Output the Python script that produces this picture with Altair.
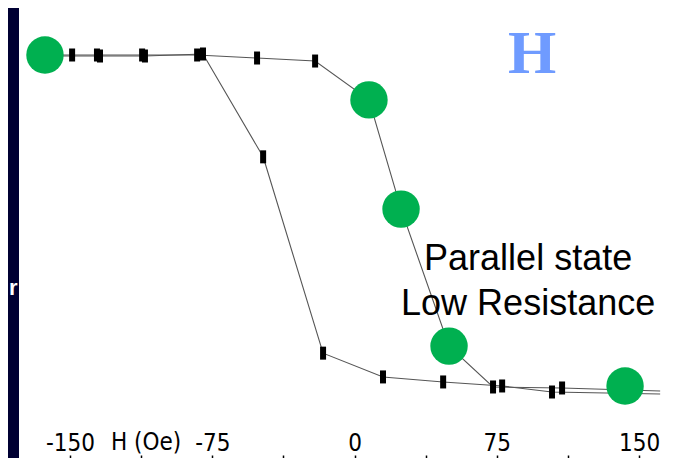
import altair as alt
import pandas as pd

# Branch A (switches at positive field)
a_h = [-163.2, -148.9, -135.8, -112.0, -83.0, -51.4, -20.8, 7.6, 24.5, 49.8, 73.0, 109.4, 161.1]
a_r = [1.000, 1.000, 1.000, 1.000, 1.000, 0.991, 0.982, 0.866, 0.540, 0.131, 0.009, 0.006, -0.003]
# Branch B (switches at negative field)
b_h = [-163.2, -134.2, -110.5, -79.9, -48.2, -16.6, 15.0, 46.7, 77.8, 104.1, 161.1]
b_r = [0.997, 0.997, 0.997, 1.003, 0.696, 0.110, 0.039, 0.024, 0.012, -0.006, -0.012]

# measured points (black bars)
bar_h = [-148.9, -135.8, -112.0, -83.0, -51.4, -20.8, 73.0, 109.4,
         -134.2, -110.5, -79.9, -48.2, -16.6, 15.0, 46.7, 77.8, 104.1]
bar_r = [1.000, 1.000, 1.000, 1.000, 0.991, 0.982, 0.009, 0.006,
         0.997, 0.997, 1.003, 0.696, 0.110, 0.039, 0.024, 0.012, -0.006]

# highlighted states (green dots)
dot_h = [-163.2, 7.6, 24.5, 49.8, 142.6]
dot_r = [1.000, 0.866, 0.540, 0.131, 0.012]

tick_values = [-150, -112.5, -75, -37.5, 0, 37.5, 75, 112.5, 150]

lines_df = pd.DataFrame({
    "H": a_h + b_h,
    "R": a_r + b_r,
    "branch": ["A"] * len(a_h) + ["B"] * len(b_h),
    "i": list(range(len(a_h))) + list(range(len(b_h))),
})
bars_df = pd.DataFrame({"H": bar_h, "R": bar_r})
dots_df = pd.DataFrame({"H": dot_h, "R": dot_r})

xs = alt.Scale(domain=[-176.9, 168.4], nice=False, zero=False)
ys = alt.Scale(domain=[-0.203, 1.1403], nice=False, zero=False)

narrow = "Liberation Sans Narrow, DejaVu Sans Condensed, Arial Narrow, sans-serif"

x_axis = alt.Axis(
    orient="top", offset=-459, values=tick_values,
    labelExpr="datum.value % 75 == 0 ? toString(datum.value) : ''",
    tickSize=12, tickColor="black", tickWidth=1.5,
    labelPadding=0, labelFont=narrow, labelFontSize=24, labelColor="black",
    labelFlush=False, labelOverlap=False,
    domain=False, grid=False, title=None,
)

def X():
    return alt.X("H:Q", scale=xs, axis=x_axis)

def Y():
    return alt.Y("R:Q", scale=ys, axis=None)

lines = alt.Chart(lines_df).mark_line(color="#555555", strokeWidth=1.1).encode(
    x=X(), y=Y(), detail="branch:N", order="i:Q"
)
bars = alt.Chart(bars_df).mark_tick(
    orient="vertical", size=13, thickness=6, color="black", opacity=1, filled=True
).encode(x=X(), y=Y())
dots = alt.Chart(dots_df).mark_circle(size=1400, color="#00B050", opacity=1).encode(
    x=X(), y=Y()
)

state_df = pd.DataFrame({"H": [91.5, 91.5], "R": [0.358, 0.224],
                         "t": ["Parallel state", "Low Resistance"]})
state_txt = alt.Chart(state_df).mark_text(
    font="Liberation Sans, Arial, sans-serif", fontSize=36, color="black",
    align="center", baseline="alphabetic"
).encode(x=X(), y=Y(), text="t:N")

h_df = pd.DataFrame({"H": [93.6], "R": [0.946], "t": ["H"]})
h_txt = alt.Chart(h_df).mark_text(
    font="Liberation Serif, Times New Roman, serif", fontWeight="bold", fontSize=62,
    color="#6F9BFF", align="center", baseline="alphabetic"
).encode(x=X(), y=Y(), text="t:N")

unit_df = pd.DataFrame({"H": [-109.9], "R": [-0.179], "t": ["H (Oe)"]})
unit_txt = alt.Chart(unit_df).mark_text(
    font=narrow, fontSize=24, color="black", align="center", baseline="alphabetic"
).encode(x=X(), y=Y(), text="t:N")

r_df = pd.DataFrame({"H": [-177.6], "R": [0.284], "t": ["r"]})
r_txt = alt.Chart(r_df).mark_text(
    font="Liberation Sans, Arial, sans-serif", fontWeight="bold", fontSize=22,
    color="white", align="right", baseline="alphabetic"
).encode(x=X(), y=Y(), text="t:N")

chart = alt.layer(lines, bars, dots, state_txt, h_txt, unit_txt, r_txt).properties(
    width=655, height=450,
    padding={"left": 11, "top": 0, "right": 0, "bottom": 0},
    autosize=alt.AutoSizeParams(type="none"),
    background="#000033",
).configure_view(fill="white", strokeWidth=0)

chart.save("out.html", embed_options={"renderer": "svg", "actions": False})
